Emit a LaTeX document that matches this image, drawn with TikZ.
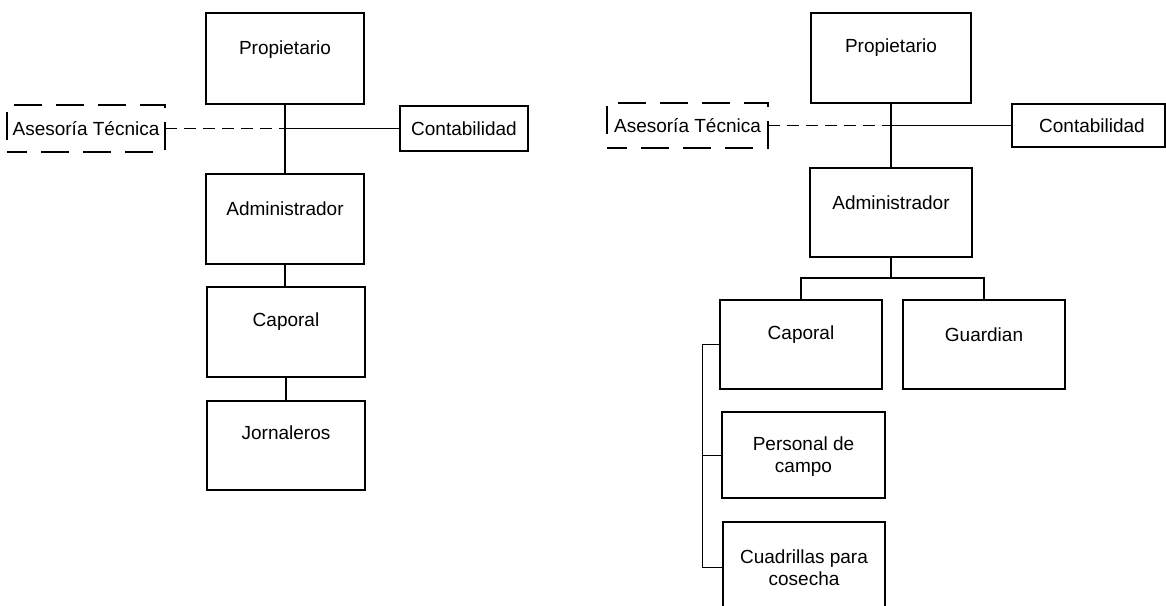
\documentclass[tikz,border=0pt]{standalone}
\usepackage{fontspec}
\setmainfont{Liberation Sans}
\begin{document}
\begin{tikzpicture}[x=1pt,y=-1pt,
  box/.style={draw, line width=1.9pt, inner sep=0pt, outer sep=0pt, font=\fontsize{19}{22}\selectfont},
  dbox/.style={box, line width=1.6pt, dash pattern=on 28pt off 14pt, dash phase=8pt},
  txt/.style={inner sep=0pt, align=center, font=\fontsize{19}{22}\selectfont},
  conn/.style={line width=1.6pt},
  dconn/.style={line width=1.6pt, dash pattern=on 12pt off 7pt},
  brk/.style={line width=1pt}]
\useasboundingbox (0,0) rectangle (1166,605);
% ---------- left chart ----------
\node[box, minimum width=158pt, minimum height=91pt] (pL) at (285,58.5) {};
\node[txt] (pLt) at (285,50) {Propietario};
\node[dbox, minimum width=158pt, minimum height=47pt] (asL) at (86,128.5) {Asesoría Técnica};
\node[box, minimum width=128pt, minimum height=45pt] (cL) at (464,128.5) {Contabilidad};
\node[box, minimum width=158pt, minimum height=90pt] (aL) at (285,219) {};
\node[txt] (aLt) at (285,209) {Administrador};
\node[box, minimum width=158pt, minimum height=90pt] (kL) at (286,332) {};
\node[txt] (kLt) at (286,322) {Caporal};
\node[box, minimum width=158pt, minimum height=89pt] (jL) at (286,445.5) {};
\node[txt] (jLt) at (286,433) {Jornaleros};
\coordinate (jl) at (pL.south |- cL.west);
\draw[conn] (pL) -- (aL);
\draw[conn] (aL.south) -- (aL.south |- kL.north);
\draw[conn] (kL) -- (jL);
\draw[conn] (jl) -- (cL.west);
\draw[dconn] (asL.east) -- (jl);
% ---------- right chart ----------
\node[box, minimum width=160pt, minimum height=90pt] (pR) at (891,58) {};
\node[txt] (pRt) at (891,48) {Propietario};
\node[dbox, minimum width=161pt, minimum height=45pt] (asR) at (687.5,125.5) {Asesoría Técnica};
\node[box, minimum width=153pt, minimum height=43pt] (cR) at (1088.5,125.5) {};
\node[txt] (cRt) at (1092,125.5) {Contabilidad};
\node[box, minimum width=162pt, minimum height=89pt] (aR) at (891,212.5) {};
\node[txt] (aRt) at (891,203) {Administrador};
\node[box, minimum width=162pt, minimum height=89pt] (kR) at (801,344.5) {};
\node[txt] (kRt) at (801,335) {Caporal};
\node[box, minimum width=162pt, minimum height=89pt] (gR) at (984,344.5) {};
\node[txt] (gRt) at (984,335) {Guardian};
\node[box, minimum width=163pt, minimum height=86pt] (perR) at (803.5,455) {};
\node[txt] (perRt) at (803.5,457) {Personal de\\campo};
\node[box, minimum width=162pt, minimum height=90pt] (cuR) at (804,567) {};
\node[txt] (cuRt) at (804,568) {Cuadrillas para\\cosecha};
\coordinate (jr) at (pR.south |- asR.east);
\coordinate (bus) at (891,278);
\draw[conn] (pR) -- (aR);
\draw[conn] (jr) -- (jr -| cR.west);
\draw[dconn] (asR.east) -- (jr);
\draw[conn] (aR.south) -- (bus);
\draw[conn] (kR.north) -- (kR.north |- bus) -- (gR.north |- bus) -- (gR.north);
\draw[brk] (kR.west) -- ++(-18,0) coordinate (b1) |- (cuR.west);
\draw[brk] (b1 |- perR.west) -- (perR.west);
\end{tikzpicture}
\end{document}
